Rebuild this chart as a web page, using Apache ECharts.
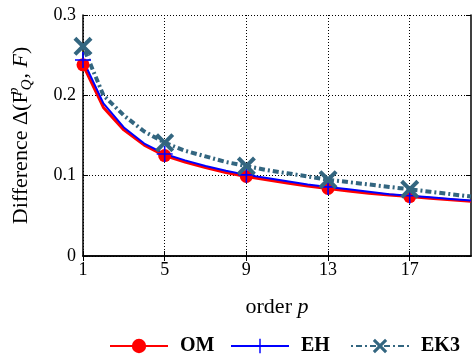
<!DOCTYPE html>
<html><head><meta charset="utf-8">
<script src="https://cdn.jsdelivr.net/npm/echarts@6/dist/echarts.min.js"></script>
<style>html,body{margin:0;padding:0;background:#fff}#c{width:473px;height:354px}</style>
</head><body><div id="c"></div>
<script>
const orders = [1,2,3,4,5,6,7,8,9,10,11,12,13,14,15,16,17,18,19,20];
const markedOrders = [1,5,9,13,17];
const omValues  = [0.238,0.185,0.157,0.138,0.125,0.117,0.110,0.104,0.099,0.095,0.091,0.087,0.084,0.081,0.078,0.076,0.074,0.072,0.070,0.068];
const ehValues  = [0.244,0.190,0.160,0.140,0.127,0.119,0.112,0.106,0.101,0.097,0.093,0.089,0.086,0.083,0.080,0.077,0.075,0.073,0.071,0.069];
const ek3Values = [0.261,0.200,0.175,0.155,0.141,0.131,0.124,0.117,0.112,0.107,0.103,0.099,0.095,0.092,0.089,0.086,0.083,0.080,0.077,0.074];
const seriesNames = ['OM','EH','EK3'];
const yTicks = [0, 0.1, 0.2, 0.3];

const FONT = "'Liberation Serif', serif";
const X_PATH = 'path://M0,3 L3,0 L10,7 L17,0 L20,3 L13,10 L20,17 L17,20 L10,13 L3,20 L0,17 L7,10 Z';
const PLUS_PATH = 'path://M9,0 L11,0 L11,9 L20,9 L20,11 L11,11 L11,20 L9,20 L9,11 L0,11 L0,9 L9,9 Z';

function build(vals){
  return vals.map((v,i)=> markedOrders.includes(orders[i]) ? v : {value:v, symbol:'none'});
}
const chart = echarts.init(document.getElementById('c'));
const axisLine = {show:true, lineStyle:{color:'#000', width:1.5}};
const tickLen = 5;
const legendLefts = [109, 230, 350];
const legends = seriesNames.map((n,i)=>({
  bottom:-2, left:legendLefts[i], padding:0, itemWidth:58, itemHeight:18,
  textStyle:{fontFamily:FONT, fontSize:20, fontWeight:'bold', color:'#000', padding:[0,0,0,7]},
  data:[n]
}));
chart.setOption({
  animation:false,
  grid:{left:83, right:2, top:15, bottom:98, containLabel:false, outerBoundsMode:'none'},
  xAxis:[{
    type:'category', data:orders.map(String), boundaryGap:false,
    axisLine, axisTick:{inside:true, interval:3, length:tickLen, lineStyle:{color:'#000'}},
    axisLabel:{interval:3, color:'#000', fontFamily:FONT, fontSize:18, margin:5},
    splitLine:{show:true, interval:3, lineStyle:{color:'#000', type:[1,2], width:1}},
    name:'{n|order }{i|p}', nameLocation:'middle', nameGap:40,
    nameTextStyle:{rich:{n:{fontFamily:FONT,fontSize:22,color:'#000'}, i:{fontFamily:FONT,fontSize:22,fontStyle:'italic',color:'#000'}}}
  },{
    type:'category', data:orders.map(String), boundaryGap:false, position:'top',
    axisLine, axisTick:{inside:true, interval:3, length:tickLen, lineStyle:{color:'#000'}},
    axisLabel:{show:false}, splitLine:{show:false}
  }],
  yAxis:[{
    type:'value', min:0, max:0.3, interval:0.1,
    axisLine, axisTick:{show:true, inside:true, length:tickLen, lineStyle:{color:'#000'}},
    axisLabel:{color:'#000', fontFamily:FONT, fontSize:18, margin:7,
      formatter:v=> v===0 ? '0' : v.toFixed(1)},
    splitLine:{show:true, lineStyle:{color:'#000', type:[1,2], width:1}},
    name:'{n|Difference Δ(F}{sp|p}{s|Q}{n|, }{i|F}{n|)}', nameLocation:'middle', nameGap:48, nameRotate:90,
    nameTextStyle:{rich:{
      n:{fontFamily:FONT,fontSize:22,color:'#000',lineHeight:28},
      i:{fontFamily:FONT,fontSize:22,fontStyle:'italic',color:'#000',lineHeight:28},
      s:{fontFamily:FONT,fontSize:15,fontStyle:'italic',color:'#000',verticalAlign:'bottom',lineHeight:15,padding:[0,1,0,1]},
      sp:{fontFamily:FONT,fontSize:15,fontStyle:'italic',color:'#000',verticalAlign:'top',lineHeight:15,width:0}
    }}
  },{
    type:'value', min:0, max:0.3, interval:0.1, position:'right',
    axisLine, axisTick:{show:true, inside:true, length:tickLen, lineStyle:{color:'#000'}},
    axisLabel:{show:false}, splitLine:{show:false}
  }],
  legend:legends,
  series:[
    {name:seriesNames[0], type:'line', data:build(omValues), symbol:'circle', symbolSize:13,
     showAllSymbol:true,
     itemStyle:{color:'#ff0000'}, lineStyle:{color:'#ff0000', width:3}},
    {name:seriesNames[1], type:'line', data:build(ehValues), symbol:PLUS_PATH, symbolSize:16,
     showAllSymbol:true,
     itemStyle:{color:'#0000ff'}, lineStyle:{color:'#0000ff', width:2}},
    {name:seriesNames[2], type:'line', data:build(ek3Values), symbol:X_PATH, symbolSize:19,
     showAllSymbol:true,
     itemStyle:{color:'#336680'}, lineStyle:{color:'#336680', width:4, type:[2,3,6,3]}}
  ]
});
</script></body></html>
